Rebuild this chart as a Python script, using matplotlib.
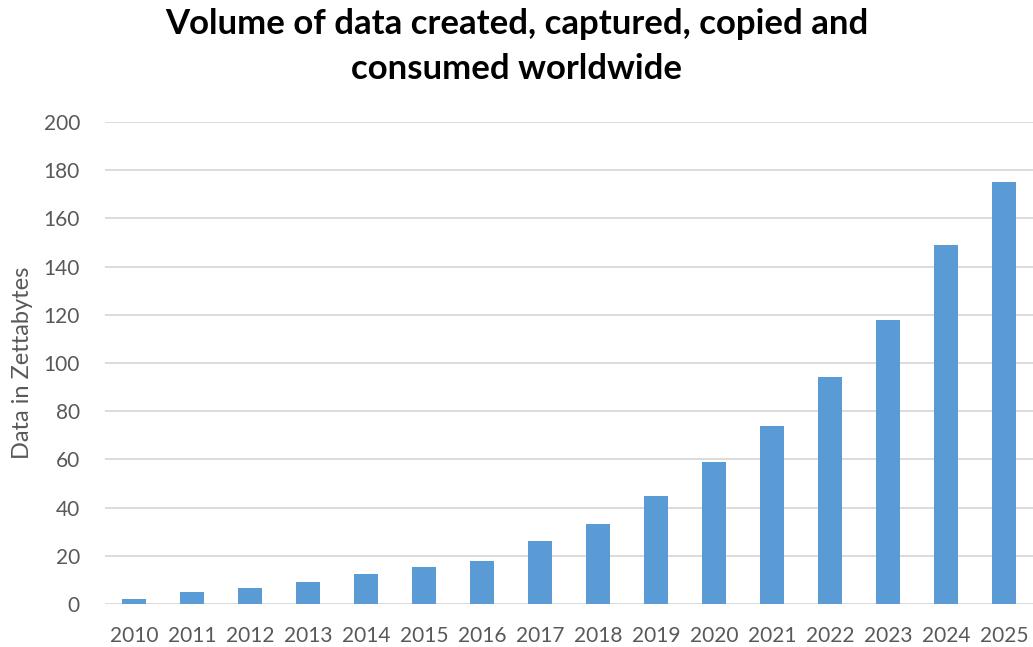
import matplotlib.pyplot as plt
import numpy as np

years = ['2010', '2011', '2012', '2013', '2014', '2015', '2016', '2017',
         '2018', '2019', '2020', '2021', '2022', '2023', '2024', '2025']
zettabytes = [2, 5, 6.5, 9, 12.5, 15.5, 18, 26, 33, 45, 59, 74, 94, 118, 149, 175]

plt.rcParams['font.family'] = ['Lato', 'DejaVu Sans']

fig = plt.figure(figsize=(10.33, 6.47), dpi=100)
ax = fig.add_axes([105 / 1033, 43 / 647, 928 / 1033, 482 / 647])

x = np.arange(len(years))
ax.bar(x, zettabytes, width=0.4, color='#5b9bd5', zorder=3)

ax.set_xlim(-0.5, len(years) - 0.5)
ax.set_ylim(0, 200)
ax.set_yticks(np.arange(0, 201, 20))
ax.set_xticks(x)
ax.set_xticklabels(years)
ax.grid(axis='y', color='#d9d9d9', linewidth=1.3, zorder=0)
ax.tick_params(length=0, labelsize=15, colors='#595959')
ax.tick_params(axis='x', pad=16)
ax.tick_params(axis='y', pad=18)
for s in ax.spines.values():
    s.set_visible(False)
ax.set_ylabel('Data in Zettabytes', fontsize=17, color='#595959', labelpad=8)

fig.text(0.5, 1 - 8 / 647, 'Volume of data created, captured, copied and\nconsumed worldwide',
         ha='center', va='top', fontsize=25, fontweight='bold', linespacing=1.5)

fig.savefig('out.png', dpi=100, facecolor='white')
